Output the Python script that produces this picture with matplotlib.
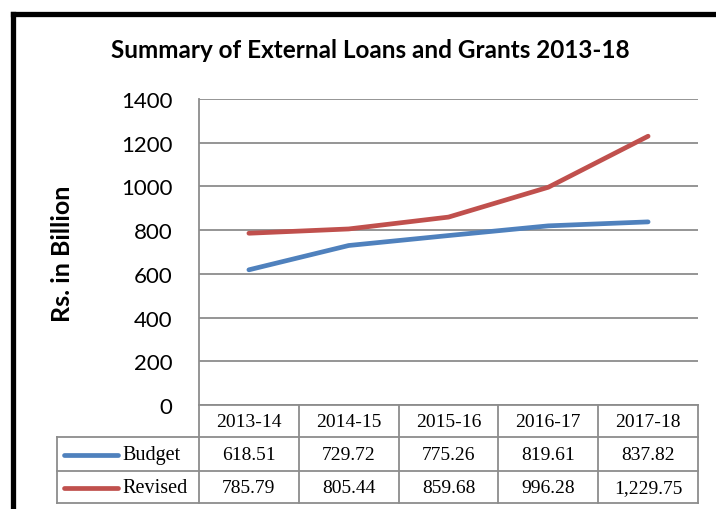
import matplotlib
matplotlib.use("Agg")
import matplotlib.pyplot as plt
import matplotlib.transforms as mt
from matplotlib.lines import Line2D

categories = ["2013-14", "2014-15", "2015-16", "2016-17", "2017-18"]
budget = [618.51, 729.72, 775.26, 819.61, 837.82]
revised = [785.79, 805.44, 859.68, 996.28, 1229.75]
budget_labels = ["618.51", "729.72", "775.26", "819.61", "837.82"]
revised_labels = ["785.79", "805.44", "859.68", "996.28", "1,229.75"]
yticks = [0, 200, 400, 600, 800, 1000, 1200, 1400]

W, H = 716, 510
fig = plt.figure(figsize=(W / 100, H / 100), dpi=100)

def fx(px):
    return px / W

def fy(py):
    return 1 - py / H

ax_l, ax_r, ax_t, ax_b = 199, 698, 100, 406
ax = fig.add_axes([fx(ax_l), fy(ax_b), fx(ax_r - ax_l), (ax_b - ax_t) / H])

blue = "#4F81BD"
red = "#C0504D"
grid_c = "#8C8C8C"

x = list(range(len(categories)))
ax.plot(x, budget, color=blue, lw=3.4, solid_capstyle="round", zorder=3)
ax.plot(x, revised, color=red, lw=3.4, solid_capstyle="round", zorder=3)

ax.set_xlim(-0.5, len(categories) - 0.5)
ax.set_ylim(0, 1400)
ax.set_yticks(yticks)
ax.set_yticklabels([str(v) for v in yticks], fontsize=16, family="Lato")
ax.tick_params(axis="y", length=0, pad=19)
ax.set_xticks([])
ax.grid(axis="y", color=grid_c, lw=1.3)
for s in ["top", "right", "bottom"]:
    ax.spines[s].set_visible(False)
ax.spines["left"].set_color(grid_c)
ax.spines["left"].set_linewidth(1.3)
ax.set_axisbelow(True)

# data table
ph = ax_b - ax_t
def ay(py):
    return (ax_b - py) / ph

rows = [406, 438, 471.5, 504]
tab_left = 57
colw = (ax_r - ax_l) / len(categories)
def dx(px):
    return -0.5 + (px - ax_l) / colw

bt = mt.blended_transform_factory(ax.transData, ax.transAxes)
lkw = dict(color=grid_c, lw=1.3, transform=bt, clip_on=False)

# horizontal lines
ax.add_line(Line2D([-0.5, 4.5], [ay(rows[0])] * 2, **lkw))
for r in rows[1:]:
    ax.add_line(Line2D([dx(tab_left), 4.5], [ay(r)] * 2, **lkw))
# vertical lines
for i in range(len(categories) + 1):
    xv = -0.5 + i
    ax.add_line(Line2D([xv, xv], [ay(rows[0]), ay(rows[3])], **lkw))
ax.add_line(Line2D([dx(tab_left)] * 2, [ay(rows[1]), ay(rows[3])], **lkw))

tkw = dict(transform=bt, ha="center", va="center", fontsize=14,
           family="Liberation Serif", clip_on=False)
for i, c in enumerate(categories):
    ax.text(i, ay((rows[0] + rows[1]) / 2 + 1), c, **tkw)
    ax.text(i, ay((rows[1] + rows[2]) / 2 + 1), budget_labels[i], **tkw)
    ax.text(i, ay((rows[2] + rows[3]) / 2 + 1), revised_labels[i], **tkw)

# legend keys
for (name, col, r0, r1) in [("Budget", blue, rows[1], rows[2]),
                            ("Revised", red, rows[2], rows[3])]:
    yc = ay((r0 + r1) / 2 + 1)
    ax.add_line(Line2D([dx(64), dx(118)], [yc, yc], color=col, lw=3.4,
                       solid_capstyle="round", transform=bt, clip_on=False))
    ax.text(dx(122), yc, name, transform=bt, ha="left", va="center",
            fontsize=14.5, family="Liberation Serif", clip_on=False)

# title and y label
fig.text(fx(370), fy(50), "Summary of External Loans and Grants 2013-18",
         ha="center", va="center", fontsize=17.5, fontweight="bold", family="Lato")
fig.text(fx(62), fy(254), "Rs. in Billion", ha="center", va="center",
         rotation=90, fontsize=18, fontweight="bold", family="Lato")

# outer frame (partially visible)
fig.add_artist(Line2D([fx(12.5), fx(12.5)], [fy(H + 5), fy(14.5)], color="black",
                      lw=3.8, solid_joinstyle="round", transform=fig.transFigure))
fig.add_artist(Line2D([fx(12.5), fx(W + 5)], [fy(14.5), fy(14.5)], color="black",
                      lw=3.8, transform=fig.transFigure))

fig.savefig("out.png", dpi=100)
